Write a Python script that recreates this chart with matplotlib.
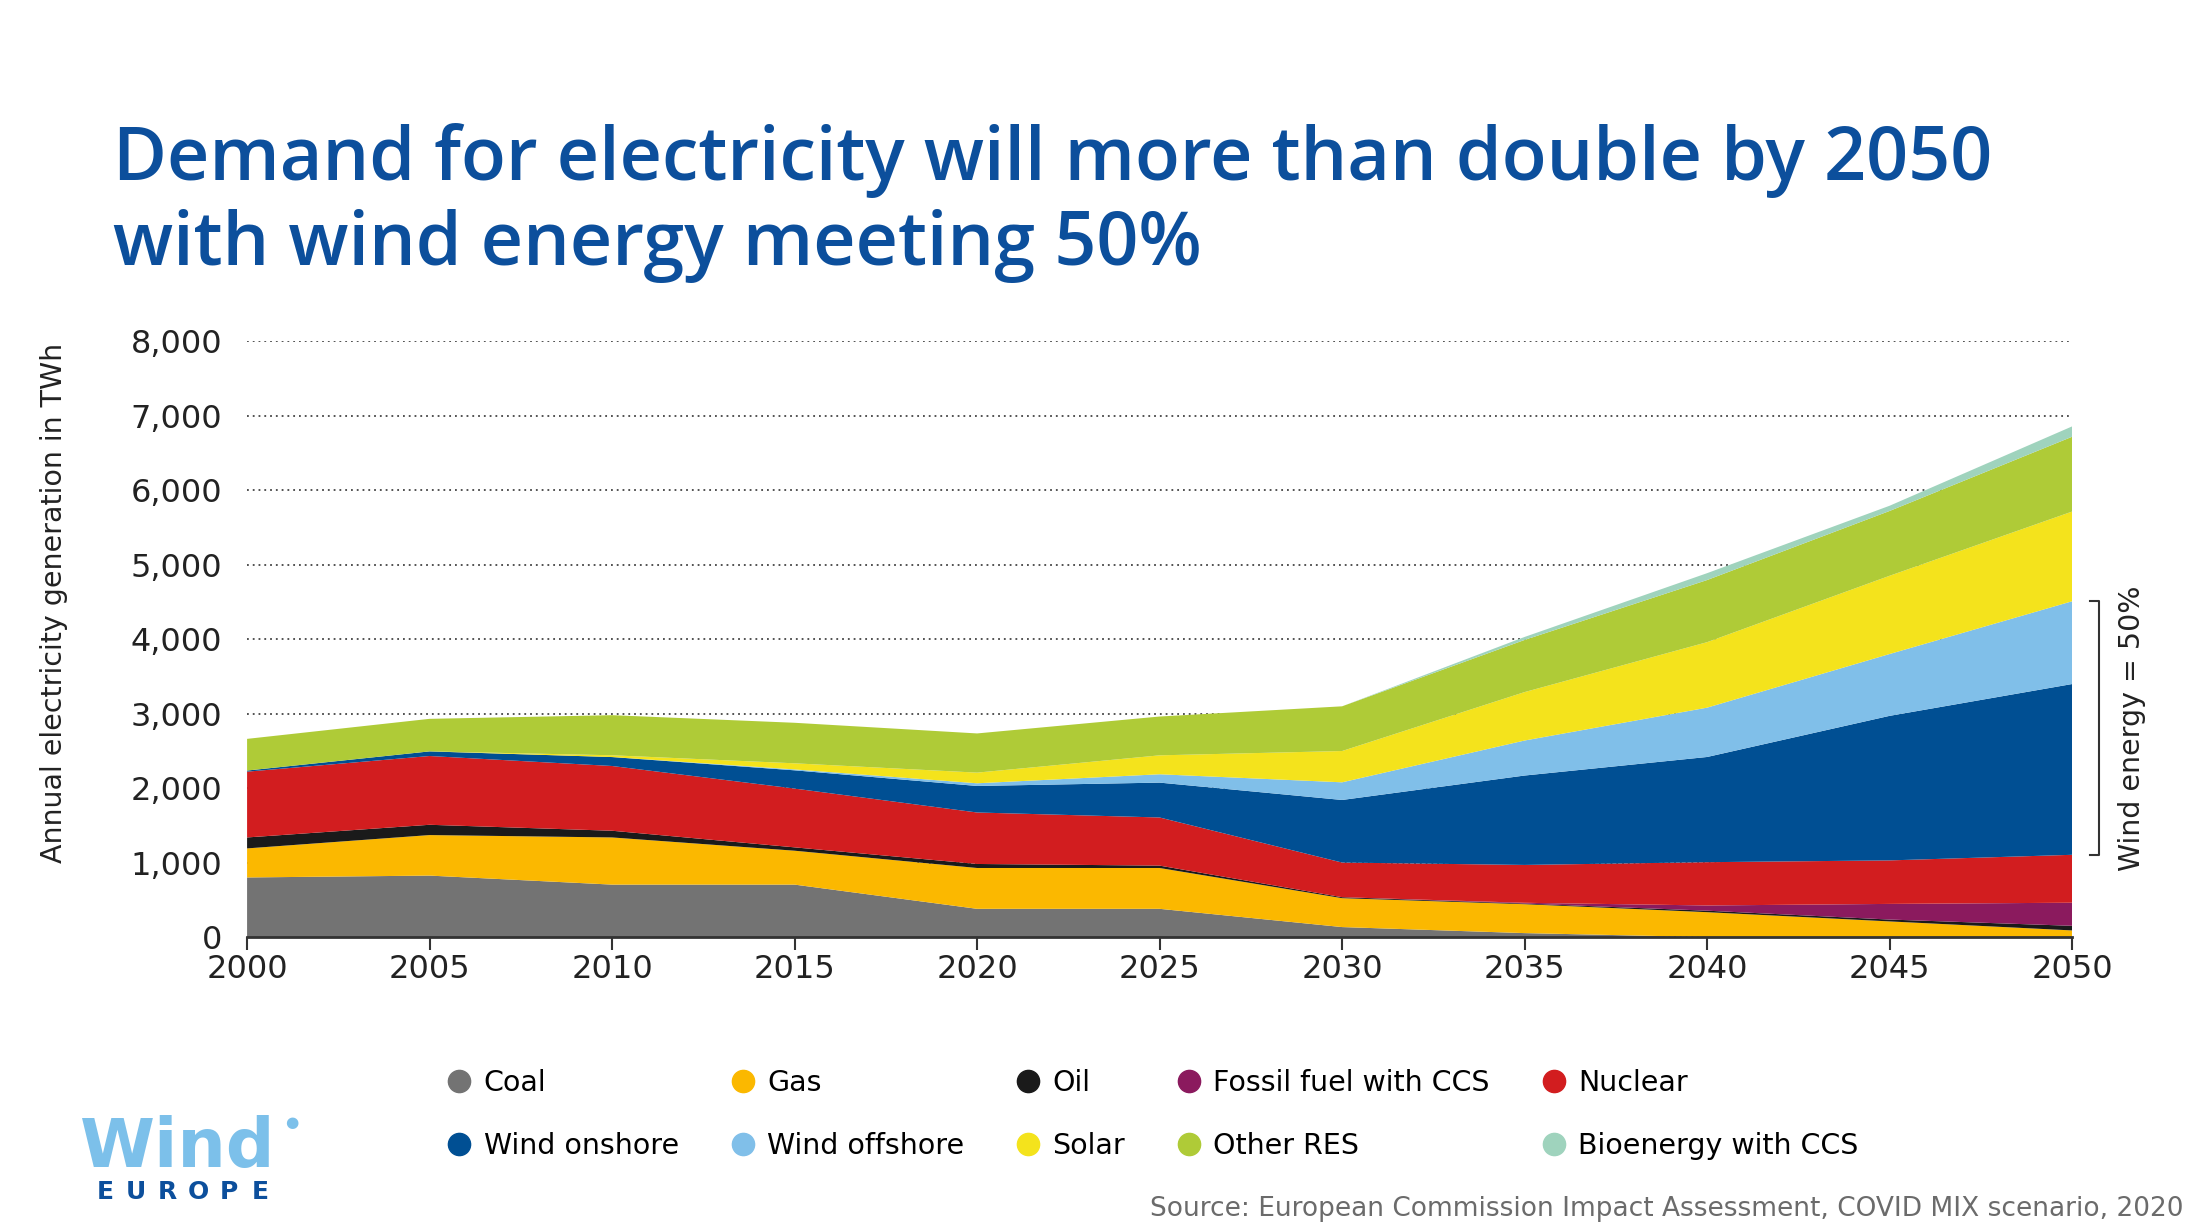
import matplotlib.pyplot as plt
from matplotlib.lines import Line2D

plt.rcParams["font.family"] = ["DejaVu Sans"]

# -------- data (TWh) --------
years = [2000, 2005, 2010, 2015, 2020, 2025, 2030, 2035, 2040, 2045, 2050]
coal = [800, 825, 704, 704, 379, 379, 134, 53, 0, 0, 0]
gas = [390, 544, 633, 455, 548, 548, 388, 388, 334, 210, 89]
oil = [147, 138, 90, 45, 54, 32, 13, 9, 20, 25, 62]
fossil_ccs = [0, 0, 0, 0, 0, 0, 0, 10, 70, 210, 310]
nuclear = [883, 923, 869, 789, 691, 646, 465, 508, 581, 584, 643]
wind_onshore = [15, 62, 120, 245, 356, 468, 840, 1200, 1412, 1940, 2292]
wind_offshore = [0, 0, 0, 12, 36, 112, 237, 470, 662, 830, 1111]
solar = [0, 0, 24, 82, 143, 254, 420, 650, 879, 1050, 1204]
other_res = [425, 437, 538, 544, 526, 521, 600, 700, 834, 870, 1004]
bio_ccs = [0, 0, 0, 0, 0, 0, 0, 40, 92, 70, 139]

labels = ["Coal", "Gas", "Oil", "Fossil fuel with CCS", "Nuclear",
          "Wind onshore", "Wind offshore", "Solar", "Other RES", "Bioenergy with CCS"]
colours = ["#737373", "#fbb800", "#1a1a1a", "#8b1a5e", "#d21d1f",
           "#004f93", "#80bfe9", "#f4e31c", "#afcb37", "#9fd3bd"]

y_ticks = [0, 1000, 2000, 3000, 4000, 5000, 6000, 7000, 8000]
y_tick_labels = ["0", "1,000", "2,000", "3,000", "4,000", "5,000", "6,000", "7,000", "8,000"]
x_ticks = years

title_blue = "#0c4f9c"
text_dark = "#222222"

fig = plt.figure(figsize=(22.1, 12.32), dpi=100)
ax = fig.add_axes([0.1118, 0.2394, 0.8258, 0.4838])

series = [coal, gas, oil, fossil_ccs, nuclear,
          wind_onshore, wind_offshore, solar, other_res, bio_ccs]
ax.stackplot(years, *series, colors=colours, linewidth=0, zorder=2)

# -------- axes styling --------
ax.set_xlim(2000, 2050)
ax.set_ylim(0, 8000)
ax.set_yticks(y_ticks)
ax.set_yticklabels(y_tick_labels)
ax.set_xticks(x_ticks)
ax.set_xticklabels([str(y) for y in x_ticks])
ax.yaxis.grid(True, linestyle=(0, (1, 2.2)), color="#444444", linewidth=1.3, zorder=0)
ax.set_axisbelow(True)
for side in ("top", "right", "left"):
    ax.spines[side].set_visible(False)
ax.spines["bottom"].set_color("#333333")
ax.spines["bottom"].set_linewidth(2)
ax.spines["bottom"].set_zorder(3)
ax.tick_params(axis="y", length=0, pad=18, labelsize=23, labelcolor=text_dark)
ax.tick_params(axis="x", length=9, width=1.5, color="#333333", pad=3,
               labelsize=23, labelcolor=text_dark)
ax.set_ylabel("Annual electricity generation in TWh", fontsize=20.5, color=text_dark)
ax.yaxis.set_label_coords(-0.098, 0.56)

# -------- wind share bracket --------
top_w = sum(v[-1] for v in series[:7])
bot_w = sum(v[-1] for v in series[:5])
bx = 2050.75
ax.plot([bx - 0.25, bx, bx, bx - 0.25], [top_w, top_w, bot_w, bot_w],
        color="#333333", lw=1.5, clip_on=False)
ax.text(bx + 0.9, (top_w + bot_w) / 2, "Wind energy = 50%", rotation=90,
        ha="center", va="center", fontsize=20.5, color=text_dark)

# -------- title --------
fig.text(0.051, 0.835, "Demand for electricity will more than double by 2050\nwith wind energy meeting 50%",
         ha="left", va="center", fontsize=53, color=title_blue, fontweight="semibold",
         linespacing=1.2, family=["Open Sans", "DejaVu Sans"])

# -------- legend --------
order = [0, 5, 1, 6, 2, 7, 3, 8, 4, 9]
handles = [Line2D([], [], marker="o", ls="", ms=16, color=colours[i],
                  label=labels[i]) for i in order]
fig.legend(handles=handles, ncol=5, loc="upper left", bbox_to_anchor=(0.195, 0.144),
           frameon=False, fontsize=20.5, handletextpad=0.35, columnspacing=1.75,
           labelspacing=1.25, borderpad=0, handlelength=1.0)

# -------- logo & source --------
fig.text(0.036, 0.0528, "Wind", fontsize=49, fontweight="bold", color="#7cc0ea",
         ha="left", va="baseline")
fig.text(0.132, 0.0885, "\u25cf", fontsize=11, color="#7cc0ea", ha="center", va="center")
for k, ch in enumerate("EUROPE"):
    fig.text((105 + 31 * k) / 2210, 0.0325, ch, fontsize=18, fontweight="bold",
             color="#0c4f9c", ha="center", va="center")
fig.text(0.988, 0.019, "Source: European Commission Impact Assessment, COVID MIX scenario, 2020",
         ha="right", va="center", fontsize=19, color="#6b6b6b")

fig.savefig("out.png", dpi=100)
